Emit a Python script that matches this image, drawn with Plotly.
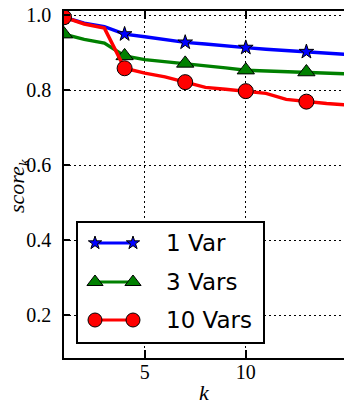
import plotly.graph_objects as go

# Recall-style score versus k for three variable-set sizes
k = list(range(1, 16))
score_1var = [0.994, 0.978, 0.969, 0.949, 0.942, 0.935, 0.927, 0.923,
              0.917, 0.913, 0.909, 0.906, 0.902, 0.899, 0.895]
score_3vars = [0.949, 0.935, 0.925, 0.891, 0.881, 0.876, 0.871, 0.864,
               0.859, 0.853, 0.851, 0.850, 0.848, 0.845, 0.843]
score_10vars = [0.994, 0.976, 0.965, 0.858, 0.845, 0.835, 0.821, 0.807,
                0.802, 0.797, 0.791, 0.775, 0.769, 0.764, 0.760]

series_names = ["1 Var", "3 Vars", "10 Vars"]
series_values = [score_1var, score_3vars, score_10vars]
series_colors = ["#0000ff", "#008000", "#ff0000"]
series_symbols = ["star", "triangle-up", "circle"]
series_sizes = [11, 15, 15]

x_ticks = [5, 10, 15]
y_ticks = [0.2, 0.4, 0.6, 0.8, 1.0]
MARK_EVERY = 3

W, H = 344, 408
L, R, T, B = 64, 0, 11, 50
plot_h = H - T - B
plot_w = W - L - R

X_PER_UNIT = 20.2   # pixels per unit of k
Y_PER_UNIT = 375.0  # pixels per unit of score
x_range = [1, 1 + plot_w / X_PER_UNIT]
y_range = [0.2 - (H - B - 315) / Y_PER_UNIT, 1.0 + (15 - T) / Y_PER_UNIT]


def px_to_x(px):
    return x_range[0] + (px - L) / X_PER_UNIT


def px_to_y(py):
    return y_range[1] - (py - T) / Y_PER_UNIT


fig = go.Figure()

for name, vals, col, sym, sz in zip(series_names, series_values,
                                    series_colors, series_symbols, series_sizes):
    fig.add_trace(go.Scatter(
        x=k, y=vals, mode="lines", name=name, showlegend=False,
        line=dict(color=col, width=3.5),
    ))
    fig.add_trace(go.Scatter(
        x=k[::MARK_EVERY], y=vals[::MARK_EVERY], mode="markers", name=name,
        showlegend=False,
        marker=dict(symbol=sym, size=sz, color=col,
                    line=dict(color="black", width=1)),
    ))

# Legend box: sits above the grid but under the traces
box_x0, box_x1, box_y0, box_y1 = 77, 264, 222, 343
row_y = [243, 282, 320]
sample_x = [95, 133]
text_x = 164

fig.add_shape(type="rect", xref="x", yref="y",
              x0=px_to_x(box_x0), x1=px_to_x(box_x1),
              y0=px_to_y(box_y1), y1=px_to_y(box_y0),
              fillcolor="white", line=dict(color="black", width=2),
              layer="between")

for name, col, sym, sz, ry in zip(series_names, series_colors,
                                  series_symbols, series_sizes, row_y):
    fig.add_trace(go.Scatter(
        x=[px_to_x(v) for v in sample_x], y=[px_to_y(ry)] * 2,
        mode="lines+markers", showlegend=False, hoverinfo="skip",
        line=dict(color=col, width=3),
        marker=dict(symbol=sym, size=sz - 1, color=col,
                    line=dict(color="black", width=1)),
    ))
    fig.add_annotation(x=px_to_x(text_x), y=px_to_y(ry), xref="x", yref="y",
                       text=name, showarrow=False, xanchor="left",
                       yanchor="middle",
                       font=dict(family="DejaVu Sans", size=23, color="black"))

# Axis titles
fig.add_annotation(x=0.5, y=(H - B - 392) / plot_h, xref="paper", yref="paper",
                   text="<i>k</i>", showarrow=False, xanchor="center",
                   yanchor="middle",
                   font=dict(family="Liberation Serif", size=22, color="black"))
fig.add_annotation(x=(18 - L) / plot_w, y=(H - B - 186) / plot_h,
                   xref="paper", yref="paper",
                   text="<i>score</i><sub><i>k</i></sub>", textangle=-90,
                   showarrow=False, xanchor="center", yanchor="middle",
                   font=dict(family="Liberation Serif", size=22, color="black"))

tick_font = dict(family="Liberation Serif", size=20, color="black")

fig.update_layout(
    width=W, height=H,
    margin=dict(l=L, r=R, t=T, b=B, pad=0),
    paper_bgcolor="white", plot_bgcolor="white",
    showlegend=False,
    xaxis=dict(
        range=x_range, tickvals=x_ticks,
        ticktext=[str(v) for v in x_ticks],
        ticks="inside", ticklen=8, tickwidth=1.5, tickcolor="black",
        showline=True, linecolor="black", linewidth=1.5, mirror="ticks",
        showgrid=True, gridcolor="black", gridwidth=1, griddash="2px,3px",
        zeroline=False, tickfont=tick_font, ticklabelstandoff=-5,
    ),
    yaxis=dict(
        range=y_range,
        tickvals=y_ticks, ticktext=[f"{v:.1f}" for v in y_ticks],
        ticks="inside", ticklen=6, tickwidth=1.5, tickcolor="black",
        showline=True, linecolor="black", linewidth=1.5, mirror=False,
        showgrid=True, gridcolor="black", gridwidth=1, griddash="2px,3px",
        zeroline=False, tickfont=tick_font, ticklabelstandoff=7,
    ),
)

fig.write_html("out.html")
